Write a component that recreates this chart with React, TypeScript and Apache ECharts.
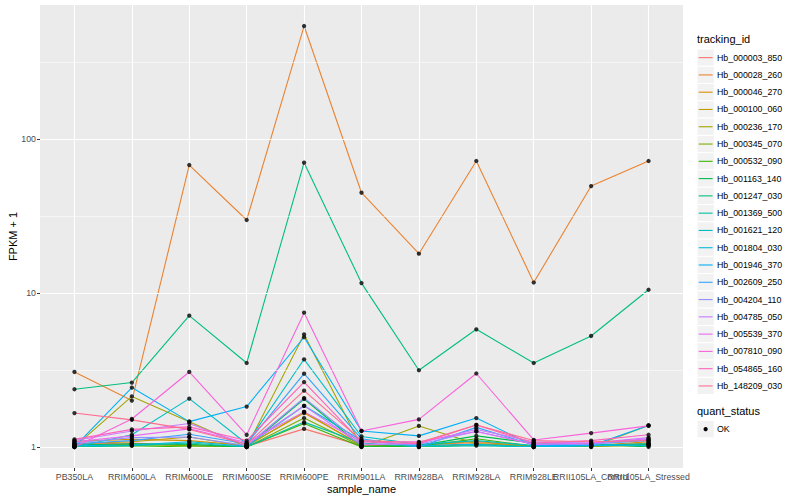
import React, { useEffect, useRef } from "react";
import * as echarts from "echarts";

const categories = [
  "PB350LA", "RRIM600LA", "RRIM600LE", "RRIM600SE", "RRIM600PE", "RRIM901LA",
  "RRIM928BA", "RRIM928LA", "RRIM928LE", "RRII105LA_Control", "RRII105LA_Stressed",
];

const trackingIds = [
  "Hb_000003_850", "Hb_000028_260", "Hb_000046_270", "Hb_000100_060", "Hb_000236_170",
  "Hb_000345_070", "Hb_000532_090", "Hb_001163_140", "Hb_001247_030", "Hb_001369_500",
  "Hb_001621_120", "Hb_001804_030", "Hb_001946_370", "Hb_002609_250", "Hb_004204_110",
  "Hb_004785_050", "Hb_005539_370", "Hb_007810_090", "Hb_054865_160", "Hb_148209_030",
];

const hb000003_850 = [1.04, 1.06, 1.02, 1.01, 1.31, 1.02, 1.03, 1.07, 1.02, 1.03, 1.05];
const hb000028_260 = [3.07, 2.0, 67.8, 29.8, 542, 44.8, 18.0, 72, 11.7, 49.5, 72];
const hb000046_270 = [1.09, 1.12, 1.1, 1.02, 1.66, 1.03, 1.01, 1.05, 1.01, 1.02, 1.08];
const hb000100_060 = [1.05, 1.08, 1.16, 1.01, 1.69, 1.02, 1.02, 1.09, 1.0, 1.0, 1.06];
const hb000236_170 = [1.0, 2.13, 1.46, 1.0, 5.38, 1.0, 1.37, 1.05, 1.0, 1.0, 1.38];
const hb000345_070 = [1.02, 1.04, 1.02, 1.0, 1.54, 1.01, 1.0, 1.04, 1.0, 1.01, 1.02];
const hb000532_090 = [1.01, 1.02, 1.0, 1.0, 1.42, 1.0, 1.01, 1.13, 1.01, 1.02, 1.04];
const hb001163_140 = [1.03, 1.05, 1.04, 1.0, 2.05, 1.01, 1.02, 1.18, 1.06, 1.05, 1.0];
const hb001247_030 = [2.37, 2.62, 7.13, 3.51, 70.2, 11.6, 3.15, 5.81, 3.51, 5.26, 10.5];
const hb001369_500 = [1.0, 1.02, 1.06, 1.0, 1.45, 1.06, 1.0, 1.02, 1.0, 1.03, 1.02];
const hb001621_120 = [1.0, 1.2, 2.06, 1.05, 3.71, 1.17, 1.04, 1.1, 1.02, 1.03, 1.05];
const hb001804_030 = [1.02, 1.03, 1.08, 1.01, 1.85, 1.1, 1.02, 1.04, 1.0, 1.02, 1.03];
const hb001946_370 = [1.0, 2.43, 1.46, 1.83, 5.16, 1.27, 1.18, 1.54, 1.02, 1.02, 1.38];
const hb002609_250 = [1.05, 1.1, 1.21, 1.05, 2.99, 1.13, 1.0, 1.34, 1.03, 1.05, 1.1];
const hb004204_110 = [1.06, 1.15, 1.16, 1.02, 2.08, 1.05, 1.04, 1.26, 1.05, 1.04, 1.12];
const hb004785_050 = [1.1, 1.27, 1.42, 1.03, 1.85, 1.03, 1.06, 1.3, 1.08, 1.06, 1.15];
const hb005539_370 = [1.08, 1.18, 1.31, 1.07, 1.69, 1.08, 1.08, 1.26, 1.04, 1.06, 1.13];
const hb007810_090 = [1.0, 1.52, 3.07, 1.2, 7.45, 1.27, 1.51, 3.0, 1.11, 1.23, 1.37];
const hb054865_160 = [1.12, 1.3, 1.35, 1.1, 2.64, 1.08, 1.05, 1.39, 1.06, 1.1, 1.2];
const hb148209_030 = [1.66, 1.5, 1.3, 1.04, 2.32, 1.1, 1.07, 1.39, 1.1, 1.08, 1.1];

const seriesValues = [
  hb000003_850, hb000028_260, hb000046_270, hb000100_060, hb000236_170,
  hb000345_070, hb000532_090, hb001163_140, hb001247_030, hb001369_500,
  hb001621_120, hb001804_030, hb001946_370, hb002609_250, hb004204_110,
  hb004785_050, hb005539_370, hb007810_090, hb054865_160, hb148209_030,
];

const colors = [
  "#F8766D", "#EA8331", "#D89000", "#C09B00", "#A3A500", "#7CAE00", "#39B600",
  "#00BB4E", "#00BF7D", "#00C1A3", "#00BFC4", "#00BAE0", "#00B0F6", "#35A2FF",
  "#9590FF", "#C77CFF", "#E76BF3", "#FA62DB", "#FF62BC", "#FF6C91",
];

const yMajor = [1, 10, 100];
const yMinor = [3.1623, 31.623, 316.23];
const quantStatus = ["OK"];

const FONT = "'Liberation Sans', Arial, Helvetica, sans-serif";

export default function App() {
  const ref = useRef<HTMLDivElement>(null);

  useEffect(() => {
    if (!ref.current) return;
    const chart = echarts.init(ref.current, undefined, { renderer: "svg" });

    const logs = seriesValues.flat().map((v) => Math.log10(v));
    const lo = Math.min(...logs);
    const hi = Math.max(...logs);
    const yMin = lo - 0.05 * (hi - lo);
    const yMax = hi + 0.05 * (hi - lo);
    const n = categories.length;
    const xIdx = categories.map((_, i) => i);
    const xEven = xIdx.filter((i) => i % 2 === 0);
    const xOdd = xIdx.filter((i) => i % 2 === 1);
    const yMajorLog = yMajor.map((v) => Math.log10(v));
    const yMinorLog = yMinor.map((v) => Math.log10(v));

    const lineSeries = seriesValues.map((vals, si) => ({
      type: "line",
      name: trackingIds[si],
      data: vals.map((v, i) => [i, Math.log10(v)]),
      showSymbol: false,
      symbol: "none",
      lineStyle: { color: colors[si], width: 1.1 },
      itemStyle: { color: colors[si] },
      z: 2,
      silent: true,
    }));

    const points: number[][] = [];
    seriesValues.forEach((vals) => vals.forEach((v, i) => points.push([i, Math.log10(v)])));

    const gridSeries = {
      type: "line",
      data: [],
      silent: true,
      z: 1,
      markLine: {
        silent: true,
        symbol: ["none", "none"],
        label: { show: false },
        animation: false,
        data: [
          ...yMinorLog.map((v) => ({ yAxis: v, lineStyle: { color: "#FFFFFF", width: 0.55, type: "solid" } })),
          ...yMajorLog.map((v) => ({ yAxis: v, lineStyle: { color: "#FFFFFF", width: 1.1, type: "solid" } })),
          ...xIdx.map((v) => ({ xAxis: v, lineStyle: { color: "#FFFFFF", width: 1.1, type: "solid" } })),
        ],
      },
    };

    const legendX = 697;
    const keyTop0 = 49;
    const keyStep = 17.28;
    const legendGraphics: any[] = [
      {
        type: "text",
        left: legendX,
        top: 33,
        style: { text: "tracking_id", font: `11px ${FONT}`, fill: "#000" },
      },
    ];
    trackingIds.forEach((id, i) => {
      const y = keyTop0 + i * keyStep;
      legendGraphics.push({
        type: "rect",
        shape: { x: legendX, y: y, width: 17.28, height: 17.28 },
        style: { fill: "#F2F2F2", stroke: "#FFFFFF", lineWidth: 1 },
      });
      legendGraphics.push({
        type: "line",
        shape: { x1: legendX + 1.7, y1: y + 8.64, x2: legendX + 15.6, y2: y + 8.64 },
        style: { stroke: colors[i], lineWidth: 1.1 },
      });
      legendGraphics.push({
        type: "text",
        x: legendX + 20,
        y: y + 8.64,
        style: {
          text: id,
          font: `8.8px ${FONT}`,
          fill: "#000",
          verticalAlign: "middle",
          align: "left",
        },
      });
    });
    const qTop = 405;
    legendGraphics.push({
      type: "text",
      left: legendX,
      top: qTop,
      style: { text: "quant_status", font: `11px ${FONT}`, fill: "#000" },
    });
    quantStatus.forEach((s, i) => {
      const y = qTop + 15.5 + i * keyStep;
      legendGraphics.push({
        type: "rect",
        shape: { x: legendX, y: y, width: 17.28, height: 17.28 },
        style: { fill: "#F2F2F2", stroke: "#FFFFFF", lineWidth: 1 },
      });
      legendGraphics.push({
        type: "circle",
        shape: { cx: legendX + 8.64, cy: y + 8.64, r: 2.1 },
        style: { fill: "#000" },
      });
      legendGraphics.push({
        type: "text",
        x: legendX + 20,
        y: y + 8.64,
        style: { text: s, font: `8.8px ${FONT}`, fill: "#000", verticalAlign: "middle", align: "left" },
      });
    });

    const xAxisBase = (vals: number[], withName: boolean) => ({
      type: "value",
      min: -0.6,
      max: n - 1 + 0.6,
      position: "bottom",
      offset: 0,
      name: withName ? "sample_name" : "",
      nameLocation: "middle",
      nameGap: 15,
      nameMoveOverlap: false,
      nameTextStyle: { fontSize: 11, color: "#000", fontFamily: FONT },
      axisLine: { show: false, onZero: false },
      axisTick: { show: true, customValues: vals, length: 3, lineStyle: { color: "#333333", width: 1 } },
      axisLabel: {
        customValues: vals,
        formatter: (v: number) => categories[Math.round(v)] ?? "",
        fontSize: 8.8,
        color: "#4D4D4D",
        margin: 4,
        fontFamily: FONT,
        showMinLabel: true,
        showMaxLabel: true,
        hideOverlap: false,
      },
      splitLine: { show: false },
    });

    const option: any = {
      animation: false,
      backgroundColor: "#FFFFFF",
      textStyle: { fontFamily: FONT },
      grid: {
        left: 40,
        right: 117,
        top: 5,
        bottom: 32,
        show: true,
        backgroundColor: "#EBEBEB",
        borderWidth: 0,
        containLabel: false,
        outerBoundsMode: "none",
      },
      xAxis: [xAxisBase(xEven, true), xAxisBase(xOdd, false)],
      yAxis: {
        type: "value",
        min: yMin,
        max: yMax,
        name: "FPKM + 1",
        nameLocation: "middle",
        nameGap: 22,
        nameMoveOverlap: false,
        nameTextStyle: { fontSize: 11, color: "#000", fontFamily: FONT },
        axisLine: { show: false, onZero: false },
        axisTick: {
          show: true,
          customValues: yMajorLog,
          length: 3,
          lineStyle: { color: "#333333", width: 1 },
        },
        axisLabel: {
          customValues: yMajorLog,
          formatter: (v: number) => String(Math.round(Math.pow(10, v))),
          fontSize: 8.8,
          color: "#4D4D4D",
          margin: 4,
          fontFamily: FONT,
          showMinLabel: true,
          showMaxLabel: true,
        },
        splitLine: { show: false },
      },
      series: [
        gridSeries,
        ...lineSeries,
        {
          type: "scatter",
          data: points,
          symbol: "circle",
          symbolSize: 4.3,
          itemStyle: { color: "#000000" },
          z: 5,
          silent: true,
        },
      ],
      graphic: legendGraphics,
    };

    chart.setOption(option);
    return () => chart.dispose();
  }, []);

  return (
    <div
      ref={ref}
      style={{ position: "absolute", left: 0, top: 0, width: 800, height: 500 }}
    />
  );
}
